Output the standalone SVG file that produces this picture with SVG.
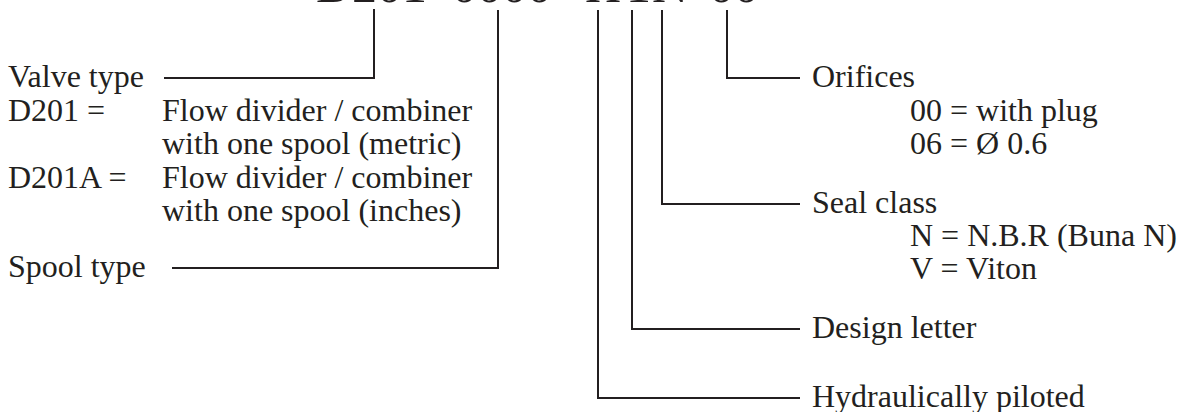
<svg xmlns="http://www.w3.org/2000/svg" width="1177" height="412" viewBox="0 0 1177 412">
  <style>
    text { font-family: "Liberation Serif", "Times New Roman", serif; font-size: 32px; fill: #231f20; }
    .code { font-size: 50px; }
    .lead { fill: none; stroke: #231f20; stroke-width: 2; stroke-linecap: butt; stroke-linejoin: miter; }
  </style>
  <rect width="1177" height="412" fill="#ffffff"/>

  <!-- ordering code heading (runs off the top edge) -->
  <g id="code">
    <text class="code" x="316" y="1.5">D201</text>
    <text class="code" x="452" y="1.5">0000</text>
    <text class="code" x="585" y="1.5">H</text>
    <text class="code" x="626" y="1.5">1</text>
    <text class="code" x="652" y="1.5">N</text>
    <text class="code" x="709" y="1.5">00</text>
  </g>

  <!-- leader lines from each code position to its description -->
  <g id="connectors">
    <polyline class="lead" points="374,9 374,78 164,78"/>
    <polyline class="lead" points="498,10 498,268 172,268"/>
    <polyline class="lead" points="598,10 598,398 800,398"/>
    <polyline class="lead" points="632,10 632,329 800,329"/>
    <polyline class="lead" points="662,10 662,204 800,204"/>
    <polyline class="lead" points="727,10 727,78 800,78"/>
  </g>

  <g id="valve-type">
    <text x="8" y="87">Valve type</text>
    <text x="8" y="121">D201 =</text>
    <text x="162" y="121">Flow divider / combiner</text>
    <text x="162" y="154">with one spool (metric)</text>
    <text x="8" y="188">D201A =</text>
    <text x="162" y="188">Flow divider / combiner</text>
    <text x="162" y="221">with one spool (inches)</text>
  </g>

  <g id="spool-type">
    <text x="8" y="277">Spool type</text>
  </g>

  <g id="orifices">
    <text x="812" y="87">Orifices</text>
    <text x="910" y="121">00 = with plug</text>
    <text x="910" y="154">06 = Ø 0.6</text>
  </g>

  <g id="seal-class">
    <text x="812" y="213">Seal class</text>
    <text x="910" y="246">N = N.B.R (Buna N)</text>
    <text x="910" y="279">V = Viton</text>
  </g>

  <g id="design-letter">
    <text x="812" y="338">Design letter</text>
  </g>

  <g id="hydraulically-piloted">
    <text x="812" y="407">Hydraulically piloted</text>
  </g>
</svg>
